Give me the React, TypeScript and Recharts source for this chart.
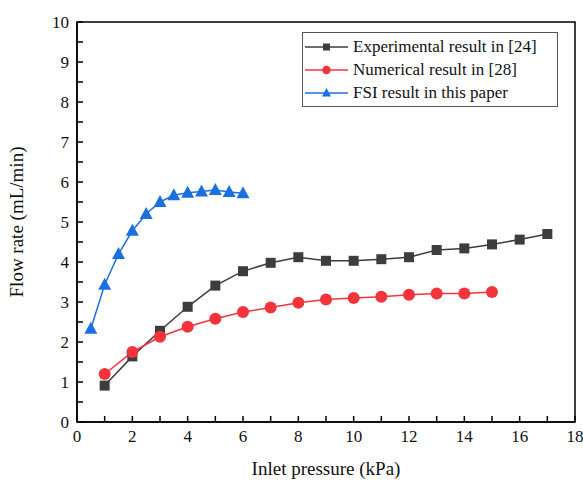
import { Line, LineChart, ReferenceArea, XAxis, YAxis } from "recharts"

const FONT = '"Liberation Serif", "Times New Roman", serif'

// Experimental result in [24]
const expPressure = [1, 2, 3, 4, 5, 6, 7, 8, 9, 10, 11, 12, 13, 14, 15, 16, 17]
const expFlow = [0.91, 1.64, 2.28, 2.88, 3.41, 3.77, 3.98, 4.12, 4.03, 4.03, 4.07, 4.12, 4.3, 4.34, 4.44, 4.56, 4.7]

// Numerical result in [28]
const numPressure = [1, 2, 3, 4, 5, 6, 7, 8, 9, 10, 11, 12, 13, 14, 15]
const numFlow = [1.2, 1.75, 2.13, 2.38, 2.58, 2.75, 2.86, 2.98, 3.06, 3.1, 3.13, 3.18, 3.21, 3.21, 3.25]

// FSI result in this paper
const fsiPressure = [0.5, 1, 1.5, 2, 2.5, 3, 3.5, 4, 4.5, 5, 5.5, 6]
const fsiFlow = [2.33, 3.43, 4.2, 4.78, 5.2, 5.5, 5.67, 5.73, 5.76, 5.8, 5.75, 5.72]

const xTicks = [0, 1, 2, 3, 4, 5, 6, 7, 8, 9, 10, 11, 12, 13, 14, 15, 16, 17, 18]
const yTicks = [0, 0.5, 1, 1.5, 2, 2.5, 3, 3.5, 4, 4.5, 5, 5.5, 6, 6.5, 7, 7.5, 8, 8.5, 9, 9.5, 10]

const BLACK = "#3d3d3d"
const RED = "#f4333b"
const BLUE = "#1c6fde"

const TICK_IN = 6

const toPoints = (xs: number[], ys: number[]) => xs.map((x, i) => ({ x, y: ys[i] }))

const series = [
  { name: "Experimental result in [24]", color: BLACK, shape: "square", data: toPoints(expPressure, expFlow) },
  { name: "Numerical result in [28]", color: RED, shape: "circle", data: toPoints(numPressure, numFlow) },
  { name: "FSI result in this paper", color: BLUE, shape: "triangle", data: toPoints(fsiPressure, fsiFlow) },
]

function Marker({ cx, cy, shape, color }: { cx: number; cy: number; shape: string; color: string }) {
  if (shape === "square") return <rect x={cx - 5} y={cy - 5} width={10} height={10} fill={color} />
  if (shape === "circle") return <circle cx={cx} cy={cy} r={6} fill={color} />
  return <polygon points={`${cx},${cy - 7} ${cx - 6.5},${cy + 5} ${cx + 6.5},${cy + 5}`} fill={color} />
}

// tick text coords arrive shifted inward by TICK_IN because tickSize is negative
function XTick(props: any) {
  const { x, y, payload } = props
  if (payload.value % 2 !== 0) return <g />
  return (
    <text x={x} y={y + TICK_IN + 20} textAnchor="middle" style={{ fontFamily: FONT, fontSize: 17 }} fill="#111">
      {payload.value}
    </text>
  )
}

function YTick(props: any) {
  const { x, y, payload } = props
  if (!Number.isInteger(payload.value)) return <g />
  return (
    <text x={x - TICK_IN - 8} y={y + 6} textAnchor="end" style={{ fontFamily: FONT, fontSize: 17 }} fill="#111">
      {payload.value}
    </text>
  )
}

function LegendBox() {
  return (
    <div
      style={{
        position: "absolute",
        left: 302,
        top: 32,
        border: "1px solid #555",
        background: "#fff",
        width: 254,
        padding: "2px 0",
        fontFamily: FONT,
        fontSize: 17,
        color: "#111",
      }}
    >
      {series.map((s) => (
        <div key={s.name} style={{ display: "flex", alignItems: "center", height: 23 }}>
          <svg width={48} height={20} style={{ flex: "none" }}>
            <line x1={2} x2={45} y1={10} y2={10} stroke={s.color} strokeWidth={1.5} />
            <g transform="translate(23.5,10) scale(0.7) translate(-23.5,-10)">
              <Marker cx={23.5} cy={10} shape={s.shape} color={s.color} />
            </g>
          </svg>
          <span style={{ marginLeft: 2, whiteSpace: "nowrap" }}>{s.name}</span>
        </div>
      ))}
    </div>
  )
}

export default function App() {
  return (
    <div style={{ position: "absolute", left: 0, top: 0, width: 583, height: 484, background: "#fff" }}>
      <LineChart width={583} height={484} margin={{ top: 22, right: 8, bottom: 22, left: 0 }}>
        <XAxis
          type="number"
          dataKey="x"
          height={40}
          domain={[0, 18]}
          ticks={xTicks}
          interval={0}
          tickLine={{ stroke: "#000", strokeWidth: 1.5 }}
          tickSize={-TICK_IN}
          tickMargin={0}
          tick={<XTick />}
          axisLine={{ stroke: "#000", strokeWidth: 1.5 }}
          label={{ value: "Inlet pressure (kPa)", position: "insideBottom", offset: -13, style: { fontFamily: FONT, fontSize: 19 }, fill: "#111" }}
          allowDuplicatedCategory={false}
        />
        <YAxis
          type="number"
          dataKey="y"
          width={77}
          domain={[0, 10]}
          ticks={yTicks}
          interval={0}
          tickLine={{ stroke: "#000", strokeWidth: 1.5 }}
          tickSize={-TICK_IN}
          tickMargin={0}
          tick={<YTick />}
          axisLine={{ stroke: "#000", strokeWidth: 1.5 }}
          label={{ value: "Flow rate (mL/min)", angle: -90, position: "insideLeft", offset: 16, fill: "#111", style: { textAnchor: "middle", fontFamily: FONT, fontSize: 19 } }}
        />
        <ReferenceArea x1={0} x2={18} y1={0} y2={10} fill="none" stroke="#000" strokeWidth={1.5} fillOpacity={0} />
        {series.map((s) => (
          <Line
            key={s.name}
            data={s.data}
            dataKey="y"
            name={s.name}
            stroke={s.color}
            strokeWidth={1.5}
            isAnimationActive={false}
            dot={(p: any) => <Marker key={`${s.name}-${p.index}`} cx={p.cx} cy={p.cy} shape={s.shape} color={s.color} />}
            activeDot={false}
          />
        ))}
      </LineChart>
      <LegendBox />
    </div>
  )
}
